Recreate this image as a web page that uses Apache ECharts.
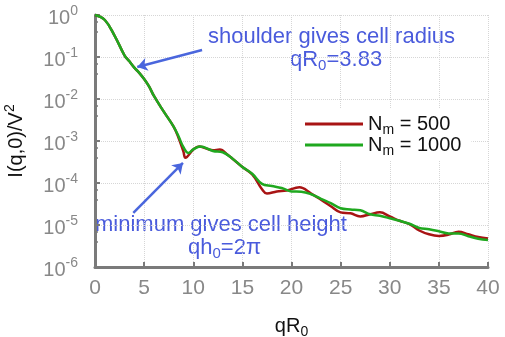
<!DOCTYPE html>
<html>
<head>
<meta charset="utf-8">
<script src="https://cdn.jsdelivr.net/npm/echarts@6/dist/echarts.min.js"></script>
<style>
  html, body { margin: 0; padding: 0; background: #fff; }
  #chart { width: 505px; height: 337px; }
</style>
</head>
<body>
<div id="chart"></div>
<script>
// ----- data -----
var qN1000 = [0, 1, 2, 3, 3.5, 4, 4.5, 5, 5.5, 6, 7, 8, 8.5, 9, 9.5, 10, 10.7, 12, 13, 14, 15, 16, 17, 18, 19, 20, 21, 22, 23, 24, 25, 26, 27, 28, 29, 30, 31, 32, 33, 34, 35, 36, 37, 38, 39, 40];
var iN1000 = [1, 0.76, 0.32, 0.11, 0.079, 0.056, 0.042, 0.030, 0.020, 0.0118, 0.005, 0.0022, 0.0013, 7.1e-4, 5.2e-4, 6.3e-4, 7.4e-4, 5.8e-4, 5.4e-4, 3.8e-4, 2.4e-4, 1.66e-4, 9.5e-5, 8.5e-5, 7.6e-5, 6.3e-5, 6.2e-5, 5.4e-5, 4.2e-5, 3.3e-5, 2.5e-5, 2.35e-5, 2.25e-5, 1.8e-5, 1.66e-5, 1.45e-5, 1.26e-5, 1.07e-5, 8.5e-6, 7.9e-6, 7.1e-6, 6.3e-6, 6.3e-6, 5.4e-6, 4.7e-6, 4.4e-6];

var qN500 = [0, 1, 2, 3, 3.5, 4, 4.5, 5, 5.5, 6, 7, 8, 8.5, 9, 9.2, 10, 10.6, 12, 12.7, 13.5, 15, 16, 17, 17.5, 18.5, 19.5, 20.8, 22, 23, 24, 25, 26, 27, 28, 29, 30, 31, 32, 33, 34, 35, 36, 37, 38, 39, 40];
var iN500 = [1, 0.76, 0.32, 0.11, 0.079, 0.056, 0.042, 0.030, 0.020, 0.0118, 0.005, 0.0022, 0.0012, 5.6e-4, 4.0e-4, 6.3e-4, 7.4e-4, 6.0e-4, 6.3e-4, 4.7e-4, 2.4e-4, 1.6e-4, 7.1e-5, 5.6e-5, 6.3e-5, 6.6e-5, 7.9e-5, 5.6e-5, 4.0e-5, 2.8e-5, 2.0e-5, 1.9e-5, 1.6e-5, 1.8e-5, 2.0e-5, 1.6e-5, 1.26e-5, 1.05e-5, 7.4e-6, 6.0e-6, 5.5e-6, 5.9e-6, 6.9e-6, 6.0e-6, 5.2e-6, 4.8e-6];

var seriesNames = ['N_m = 500', 'N_m = 1000'];
var legendLabels = ['N{sub|m} = 500', 'N{sub|m} = 1000'];

// annotation anchors (data coords)
var arrowShoulder = [[10.9, 0.147], [4.3, 0.058]];
var arrowMinimum = [[3.9, 1.95e-5], [8.95, 3.0e-4]];

function pairs(xs, ys) {
    var out = [];
    for (var i = 0; i < xs.length; i++) out.push([xs[i], ys[i]]);
    return out;
}

var myChart = echarts.init(document.getElementById('chart'));
var font = 'Liberation Sans, Arial, sans-serif';
var blue = '#4a5bdc';

var option = {
    backgroundColor: '#fff',
    animation: false,
    textStyle: { fontFamily: font },
    grid: {
        left: 95,
        right: 17,
        top: 15,
        bottom: 70,
        containLabel: false,
        outerBoundsMode: 'none'
    },
    legend: {
        data: seriesNames,
        orient: 'vertical',
        left: 300,
        top: 109,
        icon: 'rect',
        itemWidth: 58,
        itemHeight: 3,
        itemGap: -5,
        padding: [2, 10, 2, 5],
        backgroundColor: '#fff',
        formatter: function(name) {
            return legendLabels[seriesNames.indexOf(name)];
        },
        textStyle: {
            fontSize: 20,
            color: '#111',
            lineHeight: 19,
            rich: {
                sub: { fontSize: 14, padding: [12, 0, 0, 0], color: '#111', lineHeight: 19 }
            }
        }
    },
    xAxis: {
        type: 'value',
        min: 0,
        max: 40,
        interval: 5,
        name: 'qR{sub|0}',
        nameLocation: 'middle',
        nameGap: 46,
        nameTextStyle: {
            fontSize: 20,
            color: '#111',
            rich: {
                sub: { fontSize: 14, padding: [12, 0, 0, 0], color: '#111' }
            }
        },
        axisLine: { lineStyle: { color: '#7a7a7a', width: 3 } },
        axisTick: { inside: true, length: 5, lineStyle: { color: '#7a7a7a', width: 2 } },
        axisLabel: { fontSize: 21, color: '#888', margin: 11 },
        splitLine: { show: true, lineStyle: { color: '#d6d6d6', type: 'dotted', width: 1 } }
    },
    yAxis: {
        type: 'log',
        logBase: 10,
        min: 1e-6,
        max: 1,
        name: 'I(q,0)/V{sup|2}',
        nameLocation: 'middle',
        nameRotate: 90,
        nameGap: 66,
        nameTextStyle: {
            fontSize: 20,
            color: '#111',
            rich: {
                sup: { fontSize: 14, padding: [0, 0, 12, 0], color: '#111' }
            }
        },
        axisLine: { show: true, lineStyle: { color: '#7a7a7a', width: 3 } },
        axisTick: { show: true, inside: true, length: 5, lineStyle: { color: '#7a7a7a', width: 2 } },
        minorTick: { show: true, splitNumber: 3, length: 3, lineStyle: { color: '#7a7a7a', width: 1.5 } },
        axisLabel: {
            margin: 17,
            formatter: function(v) {
                var e = Math.round(Math.log(v) / Math.LN10);
                return '{b|10}{s|' + e + '}';
            },
            rich: {
                b: { fontSize: 20, color: '#888', padding: [6, 0, 0, 0] },
                s: { fontSize: 14, color: '#888', padding: [0, 0, 8, 0] }
            }
        },
        splitLine: { show: true, lineStyle: { color: '#d6d6d6', type: 'dotted', width: 1 } }
    },
    graphic: [
        {
            type: 'text',
            left: 208,
            top: 26,
            style: {
                text: 'shoulder gives cell radius',
                fontSize: 22,
                fontFamily: font,
                fill: blue
            }
        },
        {
            type: 'text',
            left: 290,
            top: 49,
            style: {
                text: 'qR{sub|0}=3.83',
                fontSize: 22,
                fontFamily: font,
                fill: blue,
                rich: { sub: { fontSize: 15, fill: blue, padding: [12, 0, 0, 0] } }
            }
        },
        {
            type: 'text',
            left: 95,
            top: 214,
            style: {
                text: 'minimum gives cell height',
                fontSize: 22,
                fontFamily: font,
                fill: blue
            }
        },
        {
            type: 'text',
            left: 188,
            top: 237,
            style: {
                text: 'qh{sub|0}=2π',
                fontSize: 22,
                fontFamily: font,
                fill: blue,
                rich: { sub: { fontSize: 15, fill: blue, padding: [12, 0, 0, 0] } }
            }
        }
    ],
    series: [
        {
            name: seriesNames[0],
            type: 'line',
            smooth: 0.4,
            symbol: 'none',
            lineStyle: { color: '#a81414', width: 2.5 },
            itemStyle: { color: '#a81414' },
            data: pairs(qN500, iN500),
            z: 3
        },
        {
            name: seriesNames[1],
            type: 'line',
            smooth: 0.4,
            symbol: 'none',
            lineStyle: { color: '#1fa81f', width: 2.5 },
            itemStyle: { color: '#1fa81f' },
            data: pairs(qN1000, iN1000),
            z: 4,
            markLine: {
                silent: true,
                symbol: ['none', 'arrow'],
                symbolSize: 10,
                label: { show: false },
                lineStyle: { color: '#4a66dd', width: 2.5, type: 'solid' },
                data: [
                    [{ coord: arrowShoulder[0] }, { coord: arrowShoulder[1] }],
                    [{ coord: arrowMinimum[0] }, { coord: arrowMinimum[1] }]
                ]
            }
        }
    ]
};

myChart.setOption(option);
</script>
</body>
</html>
